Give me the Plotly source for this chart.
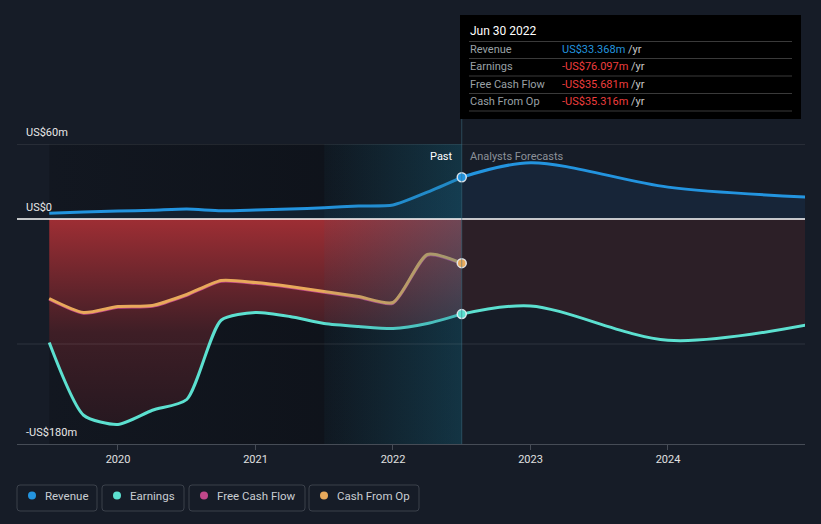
import plotly.graph_objects as go

# ---------------- data ----------------
past_t = [2019.5, 2019.75, 2020.0, 2020.25, 2020.5, 2020.75, 2021.0, 2021.25,
          2021.5, 2021.75, 2022.0, 2022.25, 2022.5]
revenue_past = [4.6, 5.6, 6.4, 7.0, 8.0, 6.6, 7.2, 8.0, 9.0, 10.4, 11.2, 21.5, 33.368]
earnings_past = [-98.8, -157.0, -164.4, -153.0, -144.4, -81.0, -74.8, -78.0,
                 -83.6, -86.0, -87.6, -83.6, -76.097]
cfo_past = [-63.6, -74.8, -70.0, -69.2, -60.4, -49.2, -50.8, -54.0,
            -58.0, -62.0, -66.8, -28.4, -35.316]
fcf_past = [-64.2, -75.4, -70.6, -69.8, -61.0, -49.8, -51.4, -54.6,
            -58.6, -62.6, -67.4, -29.0, -35.681]

fc_t = [2022.5, 2023.0, 2024.0, 2025.0]
revenue_fc = [33.368, 45.0, 25.5, 17.5]
earnings_fc = [-76.097, -69.5, -97.0, -85.0]

year_ticks = [2020, 2021, 2022, 2023, 2024]
year_labels = ["2020", "2021", "2022", "2023", "2024"]

y_labels = [(60, "US$60m"), (0, "US$0"), (-180, "-US$180m")]

tooltip_title = "Jun 30 2022"
tooltip_rows = [("Revenue", "US$33.368m", "#2394df"),
                ("Earnings", "-US$76.097m", "#ee3e3e"),
                ("Free Cash Flow", "-US$35.681m", "#ee3e3e"),
                ("Cash From Op", "-US$35.316m", "#ee3e3e")]

legend_items = [("Revenue", "#2394df"), ("Earnings", "#5ce0d0"),
                ("Free Cash Flow", "#c0478a"), ("Cash From Op", "#e8a95b")]

# ---------------- style ----------------
BG = "#161c27"
C_REV = "#2394df"
C_EARN = "#5ce0d0"
C_FCF = "#c0478a"
C_CFO = "#e8a95b"
FONT = "Roboto"
SM = 0.65

X0, X1 = 2019.2655, 2024.9964
Y0, Y1 = -180, 60
L, R, T, B = 17, 805, 144, 444


def px(x):
    return (x - L) / (R - L)


def py(y):
    return (B - y) / (B - T)


fig = go.Figure()

# dark "past" base region
fig.add_trace(go.Scatter(
    x=[2019.5, 2022.5, 2022.5, 2019.5, 2019.5], y=[Y0, Y0, Y1, Y1, Y0],
    mode="lines", line=dict(width=0), fill="toself",
    fillgradient=dict(type="horizontal", start=2019.5, stop=2022.5,
                      colorscale=[[0, "rgba(6,8,12,0.25)"], [1, "rgba(6,8,12,0.55)"]]),
    hoverinfo="skip", showlegend=False))

# revenue fills
fig.add_trace(go.Scatter(x=past_t, y=revenue_past, mode="lines", line=dict(width=0, shape="spline", smoothing=SM),
                         fill="tozeroy", fillcolor="rgba(35,148,223,0.10)", hoverinfo="skip", showlegend=False))
fig.add_trace(go.Scatter(x=fc_t, y=revenue_fc, mode="lines", line=dict(width=0, shape="spline", smoothing=0.9),
                         fill="tozeroy", fillcolor="rgba(35,110,180,0.12)", hoverinfo="skip", showlegend=False))

# earnings fills
fig.add_trace(go.Scatter(
    x=past_t, y=earnings_past, mode="lines", line=dict(width=0, shape="spline", smoothing=SM),
    fill="tozeroy",
    fillgradient=dict(type="vertical", start=-165, stop=0,
                      colorscale=[[0, "rgb(38,24,32)"], [0.45, "rgb(62,30,38)"], [1, "rgb(158,46,52)"]]),
    hoverinfo="skip", showlegend=False))
fig.add_trace(go.Scatter(x=fc_t, y=earnings_fc, mode="lines", line=dict(width=0, shape="spline", smoothing=0.9),
                         fill="tozeroy", fillcolor="#2c1f27", hoverinfo="skip", showlegend=False))

# lines
fig.add_trace(go.Scatter(x=past_t, y=revenue_past, mode="lines",
                         line=dict(color=C_REV, width=3, shape="spline", smoothing=SM), hoverinfo="skip", showlegend=False))
fig.add_trace(go.Scatter(x=fc_t, y=revenue_fc, mode="lines",
                         line=dict(color=C_REV, width=3, shape="spline", smoothing=0.9), hoverinfo="skip", showlegend=False))
fig.add_trace(go.Scatter(x=past_t, y=earnings_past, mode="lines",
                         line=dict(color=C_EARN, width=3, shape="spline", smoothing=SM), hoverinfo="skip", showlegend=False))
fig.add_trace(go.Scatter(x=fc_t, y=earnings_fc, mode="lines",
                         line=dict(color=C_EARN, width=3, shape="spline", smoothing=0.9), hoverinfo="skip", showlegend=False))
fig.add_trace(go.Scatter(x=past_t, y=fcf_past, mode="lines",
                         line=dict(color=C_FCF, width=3, shape="spline", smoothing=SM), hoverinfo="skip", showlegend=False))
fig.add_trace(go.Scatter(x=past_t, y=cfo_past, mode="lines",
                         line=dict(color=C_CFO, width=3, shape="spline", smoothing=SM), hoverinfo="skip", showlegend=False))

# highlighted band (last year of past), drawn over the lines
fig.add_trace(go.Scatter(
    x=[2021.5, 2022.5, 2022.5, 2021.5, 2021.5], y=[Y0, Y0, Y1, Y1, Y0],
    mode="lines", line=dict(width=0), fill="toself",
    fillgradient=dict(type="horizontal", start=2021.5, stop=2022.5,
                      colorscale=[[0, "rgba(30,110,140,0.06)"], [1, "rgba(30,115,145,0.36)"]]),
    hoverinfo="skip", showlegend=False))

# end-of-past markers
fig.add_trace(go.Scatter(
    x=[past_t[-1]] * 3, y=[revenue_past[-1], earnings_past[-1], cfo_past[-1]],
    mode="markers",
    marker=dict(size=9, color=[C_REV, C_EARN, C_CFO], line=dict(color="rgba(235,240,245,0.9)", width=1.5)),
    hoverinfo="skip", showlegend=False))

shapes = []
# gridlines and axis lines
shapes.append(dict(type="line", xref="paper", yref="y", x0=0, x1=1, y0=60, y1=60,
                   line=dict(color="rgba(255,255,255,0.16)", width=1), layer="above"))
shapes.append(dict(type="line", xref="paper", yref="y", x0=0, x1=1, y0=-100, y1=-100,
                   line=dict(color="rgba(255,255,255,0.10)", width=1), layer="above"))
shapes.append(dict(type="line", xref="paper", yref="y", x0=0, x1=1, y0=0, y1=0,
                   line=dict(color="#ffffff", width=1.5), layer="above"))
# past/forecast divider line up to the tooltip
shapes.append(dict(type="line", xref="x", yref="paper", x0=2022.5, x1=2022.5, y0=0, y1=py(119),
                   line=dict(color="rgba(60,110,130,0.55)", width=1), layer="above"))

# tooltip box
shapes.append(dict(type="rect", xref="paper", yref="paper", x0=px(460), x1=px(801), y0=py(119), y1=py(15),
                   fillcolor="#000000", line=dict(width=0), layer="above"))
for sy in [41.5, 58.5, 76, 93.5, 111]:
    shapes.append(dict(type="line", xref="paper", yref="paper", x0=px(469), x1=px(792), y0=py(sy), y1=py(sy),
                       line=dict(color="#3a3a3a", width=1), layer="above"))


def rounded_rect(x0, y0, x1, y1, r=3):
    X0p, X1p = px(x0), px(x1)
    Y0p, Y1p = py(y1), py(y0)  # bottom, top in paper
    rx = r / (R - L)
    ry = r / (B - T)
    return (f"M {X0p + rx},{Y0p} L {X1p - rx},{Y0p} Q {X1p},{Y0p} {X1p},{Y0p + ry} "
            f"L {X1p},{Y1p - ry} Q {X1p},{Y1p} {X1p - rx},{Y1p} L {X0p + rx},{Y1p} "
            f"Q {X0p},{Y1p} {X0p},{Y1p - ry} L {X0p},{Y0p + ry} Q {X0p},{Y0p} {X0p + rx},{Y0p} Z")


legend_boxes = [(17, 97), (102, 184), (189, 305), (309, 419)]
annotations = []
for (name, col), (bx0, bx1) in zip(legend_items, legend_boxes):
    shapes.append(dict(type="path", xref="paper", yref="paper", path=rounded_rect(bx0, 485, bx1, 511),
                       line=dict(color="#3b414b", width=1), fillcolor="rgba(0,0,0,0)"))
    cx = bx0 + 15
    shapes.append(dict(type="circle", xref="paper", yref="paper",
                       x0=px(cx - 4), x1=px(cx + 4), y0=py(499.5), y1=py(491.5),
                       fillcolor=col, line=dict(width=0)))
    annotations.append(dict(x=px(cx + 11), y=py(496), xref="paper", yref="paper", text=name,
                            showarrow=False, xanchor="left", yanchor="middle",
                            font=dict(family=FONT, size=11.5, color="#c9cdd2")))

# y labels
for val, txt in y_labels:
    annotations.append(dict(x=px(24), y=py(B - (val - Y0) * (B - T) / (Y1 - Y0) - 12), xref="paper", yref="paper",
                            text=txt, showarrow=False, xanchor="left", yanchor="middle",
                            font=dict(family=FONT, size=11, color="#e8e8e8")))

# past / forecast labels
annotations.append(dict(x=px(455), y=py(156), xref="paper", yref="paper", text="Past", showarrow=False,
                        xanchor="right", yanchor="middle", font=dict(family=FONT, size=11, color="#ffffff")))
annotations.append(dict(x=px(468), y=py(156), xref="paper", yref="paper", text="Analysts Forecasts",
                        showarrow=False, xanchor="left", yanchor="middle",
                        font=dict(family=FONT, size=11, color="#8c9199")))

# tooltip texts
annotations.append(dict(x=px(468), y=py(31), xref="paper", yref="paper", text=tooltip_title, showarrow=False,
                        xanchor="left", yanchor="middle", font=dict(family=FONT, size=12, color="#ffffff")))
for i, (lab, val, col) in enumerate(tooltip_rows):
    ry = [49.5, 66.5, 84, 101.5][i]
    annotations.append(dict(x=px(468), y=py(ry), xref="paper", yref="paper", text=lab, showarrow=False,
                            xanchor="left", yanchor="middle", font=dict(family=FONT, size=11, color="#9aa0a6")))
    annotations.append(dict(x=px(560), y=py(ry), xref="paper", yref="paper",
                            text=f"<span style='color:{col}'>{val}</span> /yr", showarrow=False,
                            xanchor="left", yanchor="middle", font=dict(family=FONT, size=11, color="#c8c8c8")))

fig.update_layout(
    width=821, height=524,
    margin=dict(l=L, r=821 - R, t=T, b=524 - B),
    paper_bgcolor=BG, plot_bgcolor=BG,
    shapes=shapes, annotations=annotations,
    xaxis=dict(range=[X0, X1], showgrid=False, zeroline=False, tickvals=year_ticks, ticktext=year_labels,
               ticks="outside", ticklen=5, tickcolor="#464c56", showline=True, linecolor="#464c56",
               linewidth=1, tickfont=dict(family=FONT, size=11, color="#e0e0e0"), fixedrange=True),
    yaxis=dict(range=[Y0, Y1], showgrid=False, zeroline=False, showticklabels=False, showline=False,
               fixedrange=True),
    font=dict(family=FONT),
    hovermode=False,
)

fig.write_html("out.html", config={"displayModeBar": False},
               post_script="document.body.style.margin='0';document.body.style.background='#161c27';")
